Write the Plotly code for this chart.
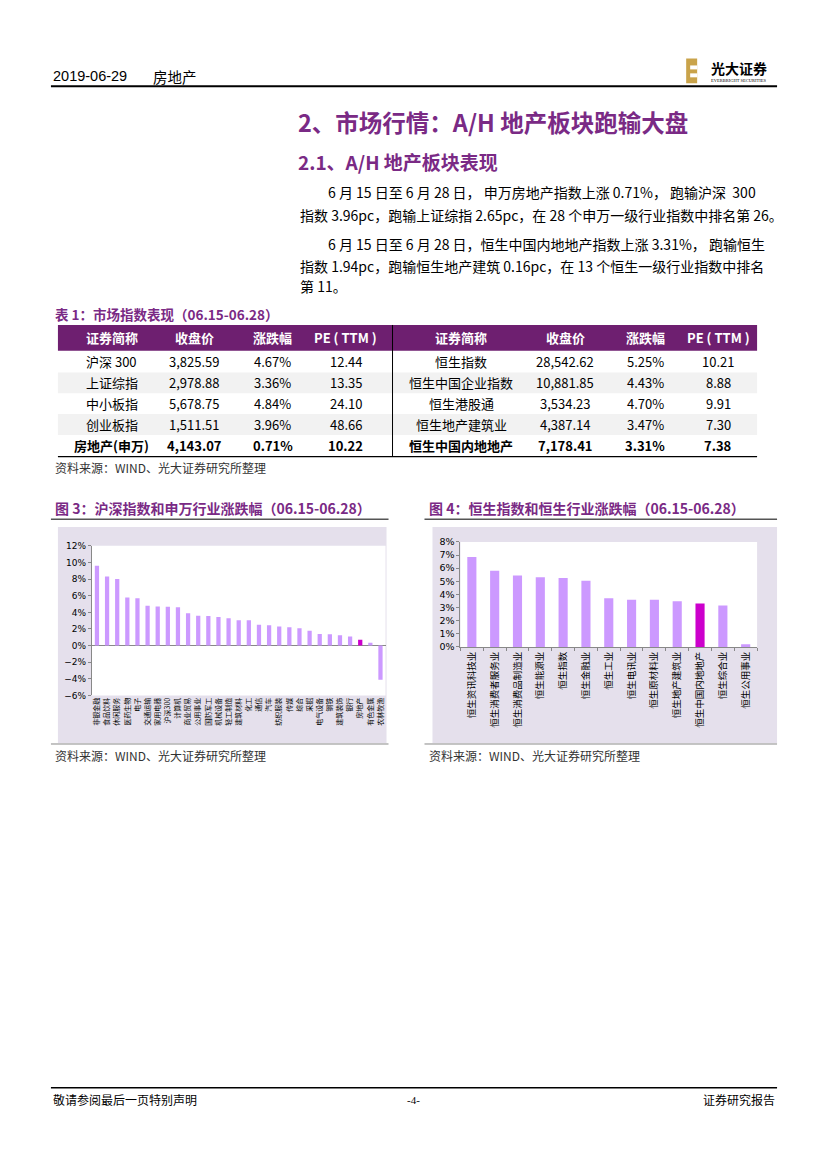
import plotly.graph_objects as go

W, H = 827, 1169
def X(px): return px / W
def Y(py): return 1 - py / H

CN = "Noto Sans CJK SC"
PURPLE = "#7A2A85"
HEAD_BG = "#6E1F70"
BAR = "#CC99FF"
HILITE = "#CC00CC"
BOX = "#E5E0EC"

# ---------------- data ----------------
table_headers = ["证券简称", "收盘价", "涨跌幅", "PE ( TTM )"]
left_names = ["沪深 300", "上证综指", "中小板指", "创业板指", "房地产(申万)"]
left_close = ["3,825.59", "2,978.88", "5,678.75", "1,511.51", "4,143.07"]
left_chg = ["4.67%", "3.36%", "4.84%", "3.96%", "0.71%"]
left_pe = ["12.44", "13.35", "24.10", "48.66", "10.22"]
right_names = ["恒生指数", "恒生中国企业指数", "恒生港股通", "恒生地产建筑业", "恒生中国内地地产"]
right_close = ["28,542.62", "10,881.85", "3,534.23", "4,387.14", "7,178.41"]
right_chg = ["5.25%", "4.43%", "4.70%", "3.47%", "3.31%"]
right_pe = ["10.21", "8.88", "9.91", "7.30", "7.38"]

sw_categories = ["非银金融", "食品饮料", "休闲服务", "医药生物", "电子", "交通运输", "家用电器",
                 "沪深300", "计算机", "商业贸易", "公用事业", "国防军工", "机械设备", "轻工制造",
                 "建筑材料", "化工", "通信", "汽车", "纺织服装", "传媒", "综合", "采掘",
                 "电气设备", "钢铁", "建筑装饰", "银行", "房地产", "有色金属", "农林牧渔"]
sw_values = [9.6, 8.3, 8.0, 5.8, 5.7, 4.8, 4.7, 4.67, 4.6, 3.9, 3.6, 3.55, 3.45, 3.3,
             3.05, 3.05, 2.5, 2.45, 2.3, 2.2, 2.1, 1.8, 1.4, 1.35, 1.25, 1.1, 0.71, 0.35, -4.1]
sw_highlight = "房地产"

hs_categories = ["恒生资讯科技业", "恒生消费者服务业", "恒生消费品制造业", "恒生能源业", "恒生指数",
                 "恒生金融业", "恒生工业", "恒生电讯业", "恒生原材料业", "恒生地产建筑业",
                 "恒生中国内地地产", "恒生综合业", "恒生公用事业"]
hs_values = [6.85, 5.8, 5.45, 5.3, 5.25, 5.05, 3.7, 3.6, 3.6, 3.47, 3.31, 3.15, 0.2]
hs_highlight = "恒生中国内地地产"

fig = go.Figure()

fig.add_trace(go.Bar(
    x=sw_categories, y=sw_values, width=0.42,
    marker=dict(color=[HILITE if c == sw_highlight else BAR for c in sw_categories], line_width=0),
    xaxis="x", yaxis="y", showlegend=False, hoverinfo="skip"))
fig.add_trace(go.Bar(
    x=hs_categories, y=hs_values, width=0.4,
    marker=dict(color=[HILITE if c == hs_highlight else BAR for c in hs_categories], line_width=0),
    xaxis="x2", yaxis="y2", showlegend=False, hoverinfo="skip"))

shapes = []
ann = []

def line(x0, y0, x1, y1, color="#000", width=1):
    shapes.append(dict(type="line", xref="paper", yref="paper", x0=X(x0), y0=Y(y0), x1=X(x1), y1=Y(y1),
                       line=dict(color=color, width=width)))

def rect(x0, y0, x1, y1, fill, layer="below"):
    shapes.append(dict(type="rect", xref="paper", yref="paper", x0=X(x0), y0=Y(y0), x1=X(x1), y1=Y(y1),
                       fillcolor=fill, line=dict(width=0), layer=layer))

def text(x, y, s, size=12, color="#000", family=CN, xanchor="left", yanchor="middle"):
    ann.append(dict(xref="paper", yref="paper", x=X(x), y=Y(y), text=s, showarrow=False,
                    xanchor=xanchor, yanchor=yanchor, font=dict(size=size, color=color, family=family)))

# ---------------- header / footer ----------------
text(50, 71, "2019-06-29", 14.5, "#000", "Liberation Sans Narrow, Liberation Sans")
text(150, 71, "房地产", 14.5)
line(50, 81, 777, 81, "#000", 2)
rect(686, 53, 697, 78, "#C9A34A", layer="above")
rect(690, 60, 697, 64, "#FFFFFF", layer="above")
rect(690, 68, 697, 72, "#FFFFFF", layer="above")
text(739, 63, "<b>光大证券</b>", 14, "#000", CN, xanchor="center")
text(739, 75, "EVERBRIGHT SECURITIES", 4.5, "#000", "Liberation Serif", xanchor="center")

line(50, 1092, 777, 1092, "#000", 1.5)
text(50, 1104, "敬请参阅最后一页特别声明", 12)
text(413, 1104, "-4-", 11, "#000", "Liberation Serif", xanchor="center")
text(777, 1104, "证券研究报告", 12, xanchor="right")

# ---------------- headings / paragraph ----------------
text(295, 117, "<b>2、市场行情：A/H 地产板块跑输大盘</b>", 23.5, PURPLE)
text(295, 157, "<b>2.1、A/H 地产板块表现</b>", 19, PURPLE)
NB = "&nbsp;"
para = [
    (325, 188, "6 月 15 日至 6 月 28 日，" + NB + "申万房地产指数上涨 0.71%，" + NB + "跑输沪深" + NB + " 300"),
    (297, 211, "指数 3.96pc，跑输上证综指 2.65pc，在 28 个申万一级行业指数中排名第 26。"),
    (325, 240, "6 月 15 日至 6 月 28 日，恒生中国内地地产指数上涨 3.31%，" + NB + "跑输恒生"),
    (297, 262, "指数 1.94pc，跑输恒生地产建筑 0.16pc，在 13 个恒生一级行业指数中排名"),
    (297, 283, "第 11。"),
]
for px, py, s in para:
    text(px, py, s, 14)

# ---------------- table ----------------
text(52, 311, "<b>表 1：市场指数表现（06.15-06.28）</b>", 13.5, PURPLE)
rect(57, 322, 757, 348, HEAD_BG)
row_tops = [348, 370, 391, 412, 433, 455]
for i in range(5):
    if i % 2 == 1:
        rect(57, row_tops[i], 757, row_tops[i + 1], "#F2F2F2")
line(392, 322, 392, 455, "#000", 1)
line(57, 455, 757, 455, "#000", 1.2)
col_x = [111, 194, 272, 345, 461, 565, 645, 718]
for j, h in enumerate(table_headers * 2):
    text(col_x[j], 335, "<b>%s</b>" % h, 13, "#FFFFFF", xanchor="center")
cols = [left_names, left_close, left_chg, left_pe, right_names, right_close, right_chg, right_pe]
for j, col in enumerate(cols):
    for i, v in enumerate(col):
        yc = (row_tops[i] + row_tops[i + 1]) / 2
        s = "<b>%s</b>" % v if i == 4 else v
        text(col_x[j], yc, s, 13, "#000", xanchor="center")
text(52, 466, "资料来源：WIND、光大证券研究所整理", 12, "#333")

# ---------------- chart frames ----------------
text(52, 507, "<b>图 3：沪深指数和申万行业涨跌幅（06.15-06.28）</b>", 14, PURPLE)
text(427, 507, "<b>图 4：恒生指数和恒生行业涨跌幅（06.15-06.28）</b>", 14, PURPLE)
line(50, 518, 388, 518, "#555", 1.5)
line(424, 518, 777, 518, "#555", 1.5)
rect(57, 526, 386, 744, BOX)
rect(432, 526, 777, 744, BOX)
rect(91, 545, 385, 696, "#FFFFFF")
rect(460, 541, 757, 647, "#FFFFFF")
line(50, 745, 388, 745, "#888", 1)
line(424, 745, 777, 745, "#888", 1)
text(52, 757, "资料来源：WIND、光大证券研究所整理", 12, "#333")
text(427, 757, "资料来源：WIND、光大证券研究所整理", 12, "#333")

fig.update_layout(
    width=W, height=H, autosize=False,
    margin=dict(l=0, r=0, t=0, b=0),
    paper_bgcolor="#FFFFFF", plot_bgcolor="rgba(0,0,0,0)",
    shapes=shapes, annotations=ann, bargap=0.6,
    xaxis=dict(domain=[X(91), X(385)], anchor="y", tickangle=-90,
               tickfont=dict(size=7, family=CN, color="#000"), showline=False,
               ticks="", showgrid=False, fixedrange=True),
    yaxis=dict(domain=[Y(696), Y(545)], anchor="x", range=[-6, 12], dtick=2, ticksuffix="%",
               tickfont=dict(size=9, family="DejaVu Sans", color="#000"), showgrid=False,
               showline=True, linecolor="#888", linewidth=1, ticks="outside", ticklen=3,
               tickcolor="#888", zeroline=True, zerolinecolor="#888", zerolinewidth=1,
               fixedrange=True),
    xaxis2=dict(domain=[X(460), X(757)], anchor="y2", tickangle=-90,
                tickfont=dict(size=9.5, family=CN, color="#000"), showline=True,
                linecolor="#888", linewidth=1, ticks="outside", tickson="boundaries",
                ticklen=3, tickcolor="#888", showgrid=False, fixedrange=True),
    yaxis2=dict(domain=[Y(647), Y(541)], anchor="x2", range=[0, 8], dtick=1, ticksuffix="%",
                tickfont=dict(size=9.5, family="DejaVu Sans", color="#000"), showgrid=False,
                showline=True, linecolor="#888", linewidth=1, ticks="outside", ticklen=3,
                tickcolor="#888", zeroline=False, fixedrange=True),
)

fig.write_html("out.html", config={"displayModeBar": False},
               post_script="document.body.style.margin='0px';document.body.style.overflow='hidden';")
